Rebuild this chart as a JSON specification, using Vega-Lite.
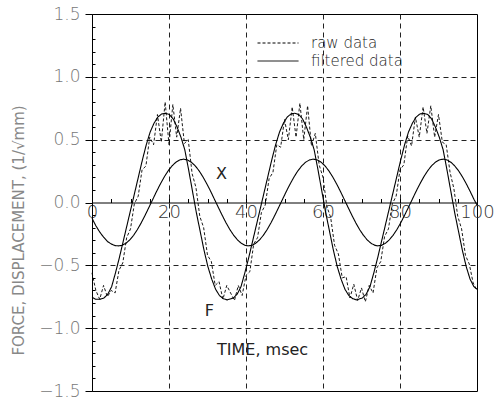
{
  "$schema": "https://vega.github.io/schema/vega-lite/v6.json",
  "width": 385,
  "height": 377,
  "autosize": {"type": "none"},
  "padding": {"left": 92, "top": 14, "right": 19, "bottom": 11},
  "background": "white",
  "config": {"view": {"stroke": "black", "strokeWidth": 1}, "font": "DejaVu Sans"},
  "layer": [
    {
      "data": {"values": [
        {"t":0,"v":-0.755,"k":"F"},{"t":1,"v":-0.77,"k":"F"},{"t":2.1,"v":-0.77,"k":"F"},{"t":3.1,"v":-0.76,"k":"F"},{"t":4.1,"v":-0.73,"k":"F"},{"t":5.1,"v":-0.67,"k":"F"},{"t":6.1,"v":-0.56,"k":"F"},{"t":7.1,"v":-0.44,"k":"F"},{"t":8.1,"v":-0.31,"k":"F"},{"t":9.1,"v":-0.18,"k":"F"},{"t":10.1,"v":-0.05,"k":"F"},{"t":11.1,"v":0.08,"k":"F"},{"t":12.1,"v":0.21,"k":"F"},{"t":13.1,"v":0.34,"k":"F"},{"t":14.1,"v":0.46,"k":"F"},{"t":15.1,"v":0.56,"k":"F"},{"t":16.1,"v":0.63,"k":"F"},{"t":17.1,"v":0.68,"k":"F"},{"t":18.1,"v":0.705,"k":"F"},{"t":19.1,"v":0.71,"k":"F"},{"t":20.1,"v":0.7,"k":"F"},{"t":21.1,"v":0.665,"k":"F"},{"t":22.1,"v":0.6,"k":"F"},{"t":23.1,"v":0.52,"k":"F"},{"t":24.1,"v":0.42,"k":"F"},{"t":25.1,"v":0.26,"k":"F"},{"t":26.1,"v":0.09,"k":"F"},{"t":27.1,"v":-0.08,"k":"F"},{"t":28.1,"v":-0.23,"k":"F"},{"t":29.1,"v":-0.38,"k":"F"},{"t":30.1,"v":-0.51,"k":"F"},{"t":31.1,"v":-0.61,"k":"F"},{"t":32.1,"v":-0.69,"k":"F"},{"t":33.1,"v":-0.74,"k":"F"},{"t":34.1,"v":-0.765,"k":"F"},{"t":35.1,"v":-0.775,"k":"F"},
        {"t":36.7,"v":-0.76,"k":"F"},{"t":37.7,"v":-0.73,"k":"F"},{"t":38.7,"v":-0.67,"k":"F"},{"t":39.7,"v":-0.56,"k":"F"},{"t":40.7,"v":-0.44,"k":"F"},{"t":41.7,"v":-0.31,"k":"F"},{"t":42.7,"v":-0.18,"k":"F"},{"t":43.7,"v":-0.05,"k":"F"},{"t":44.7,"v":0.08,"k":"F"},{"t":45.7,"v":0.21,"k":"F"},{"t":46.7,"v":0.34,"k":"F"},{"t":47.7,"v":0.46,"k":"F"},{"t":48.7,"v":0.56,"k":"F"},{"t":49.7,"v":0.63,"k":"F"},{"t":50.7,"v":0.68,"k":"F"},{"t":51.7,"v":0.705,"k":"F"},{"t":52.7,"v":0.71,"k":"F"},{"t":53.7,"v":0.7,"k":"F"},{"t":54.7,"v":0.665,"k":"F"},{"t":55.7,"v":0.6,"k":"F"},{"t":56.7,"v":0.52,"k":"F"},{"t":57.7,"v":0.42,"k":"F"},{"t":58.7,"v":0.26,"k":"F"},{"t":59.7,"v":0.09,"k":"F"},{"t":60.7,"v":-0.08,"k":"F"},{"t":61.7,"v":-0.23,"k":"F"},{"t":62.7,"v":-0.38,"k":"F"},{"t":63.7,"v":-0.51,"k":"F"},{"t":64.7,"v":-0.61,"k":"F"},{"t":65.7,"v":-0.69,"k":"F"},{"t":66.7,"v":-0.74,"k":"F"},{"t":67.7,"v":-0.765,"k":"F"},{"t":68.7,"v":-0.775,"k":"F"},
        {"t":70.2,"v":-0.76,"k":"F"},{"t":71.2,"v":-0.73,"k":"F"},{"t":72.2,"v":-0.67,"k":"F"},{"t":73.2,"v":-0.56,"k":"F"},{"t":74.2,"v":-0.44,"k":"F"},{"t":75.2,"v":-0.31,"k":"F"},{"t":76.2,"v":-0.18,"k":"F"},{"t":77.2,"v":-0.05,"k":"F"},{"t":78.2,"v":0.08,"k":"F"},{"t":79.2,"v":0.21,"k":"F"},{"t":80.2,"v":0.34,"k":"F"},{"t":81.2,"v":0.46,"k":"F"},{"t":82.2,"v":0.56,"k":"F"},{"t":83.2,"v":0.63,"k":"F"},{"t":84.2,"v":0.68,"k":"F"},{"t":85.2,"v":0.705,"k":"F"},{"t":86.2,"v":0.71,"k":"F"},{"t":87.2,"v":0.7,"k":"F"},{"t":88.2,"v":0.665,"k":"F"},{"t":89.2,"v":0.6,"k":"F"},{"t":90.2,"v":0.52,"k":"F"},{"t":91.2,"v":0.42,"k":"F"},{"t":92.2,"v":0.26,"k":"F"},{"t":93.2,"v":0.09,"k":"F"},{"t":94.2,"v":-0.08,"k":"F"},{"t":95.2,"v":-0.23,"k":"F"},{"t":96.2,"v":-0.38,"k":"F"},{"t":97.2,"v":-0.51,"k":"F"},{"t":98.2,"v":-0.61,"k":"F"},{"t":99.2,"v":-0.67,"k":"F"},{"t":100,"v":-0.69,"k":"F"},
        {"t":0,"v":-0.125,"k":"X"},{"t":1,"v":-0.185,"k":"X"},{"t":2,"v":-0.235,"k":"X"},{"t":3,"v":-0.275,"k":"X"},{"t":4,"v":-0.31,"k":"X"},{"t":5,"v":-0.33,"k":"X"},{"t":6,"v":-0.343,"k":"X"},{"t":6.8,"v":-0.345,"k":"X"},{"t":7.8,"v":-0.341,"k":"X"},{"t":8.8,"v":-0.325,"k":"X"},{"t":9.8,"v":-0.298,"k":"X"},{"t":10.8,"v":-0.261,"k":"X"},{"t":11.8,"v":-0.215,"k":"X"},{"t":12.8,"v":-0.161,"k":"X"},{"t":13.8,"v":-0.101,"k":"X"},{"t":14.8,"v":-0.038,"k":"X"},{"t":15.8,"v":0.026,"k":"X"},{"t":16.8,"v":0.09,"k":"X"},{"t":17.8,"v":0.15,"k":"X"},{"t":18.8,"v":0.205,"k":"X"},{"t":19.8,"v":0.253,"k":"X"},{"t":20.8,"v":0.292,"k":"X"},{"t":21.8,"v":0.321,"k":"X"},{"t":22.8,"v":0.339,"k":"X"},{"t":23.8,"v":0.345,"k":"X"},{"t":24.8,"v":0.339,"k":"X"},{"t":25.8,"v":0.321,"k":"X"},{"t":26.8,"v":0.292,"k":"X"},{"t":27.8,"v":0.253,"k":"X"},{"t":28.8,"v":0.205,"k":"X"},{"t":29.8,"v":0.15,"k":"X"},{"t":30.8,"v":0.09,"k":"X"},{"t":31.8,"v":0.026,"k":"X"},{"t":32.8,"v":-0.038,"k":"X"},{"t":33.8,"v":-0.101,"k":"X"},{"t":34.8,"v":-0.161,"k":"X"},{"t":35.8,"v":-0.215,"k":"X"},{"t":36.8,"v":-0.261,"k":"X"},{"t":37.8,"v":-0.298,"k":"X"},{"t":38.8,"v":-0.325,"k":"X"},{"t":39.8,"v":-0.341,"k":"X"},
        {"t":40.5,"v":-0.345,"k":"X"},{"t":41.5,"v":-0.341,"k":"X"},{"t":42.5,"v":-0.325,"k":"X"},{"t":43.5,"v":-0.298,"k":"X"},{"t":44.5,"v":-0.261,"k":"X"},{"t":45.5,"v":-0.215,"k":"X"},{"t":46.5,"v":-0.161,"k":"X"},{"t":47.5,"v":-0.101,"k":"X"},{"t":48.5,"v":-0.038,"k":"X"},{"t":49.5,"v":0.026,"k":"X"},{"t":50.5,"v":0.09,"k":"X"},{"t":51.5,"v":0.15,"k":"X"},{"t":52.5,"v":0.205,"k":"X"},{"t":53.5,"v":0.253,"k":"X"},{"t":54.5,"v":0.292,"k":"X"},{"t":55.5,"v":0.321,"k":"X"},{"t":56.5,"v":0.339,"k":"X"},{"t":57.5,"v":0.345,"k":"X"},{"t":58.5,"v":0.339,"k":"X"},{"t":59.5,"v":0.321,"k":"X"},{"t":60.5,"v":0.292,"k":"X"},{"t":61.5,"v":0.253,"k":"X"},{"t":62.5,"v":0.205,"k":"X"},{"t":63.5,"v":0.15,"k":"X"},{"t":64.5,"v":0.09,"k":"X"},{"t":65.5,"v":0.026,"k":"X"},{"t":66.5,"v":-0.038,"k":"X"},{"t":67.5,"v":-0.101,"k":"X"},{"t":68.5,"v":-0.161,"k":"X"},{"t":69.5,"v":-0.215,"k":"X"},{"t":70.5,"v":-0.261,"k":"X"},{"t":71.5,"v":-0.298,"k":"X"},{"t":72.5,"v":-0.325,"k":"X"},{"t":73.5,"v":-0.341,"k":"X"},
        {"t":74.2,"v":-0.345,"k":"X"},{"t":75.2,"v":-0.341,"k":"X"},{"t":76.2,"v":-0.325,"k":"X"},{"t":77.2,"v":-0.298,"k":"X"},{"t":78.2,"v":-0.261,"k":"X"},{"t":79.2,"v":-0.215,"k":"X"},{"t":80.2,"v":-0.161,"k":"X"},{"t":81.2,"v":-0.101,"k":"X"},{"t":82.2,"v":-0.038,"k":"X"},{"t":83.2,"v":0.026,"k":"X"},{"t":84.2,"v":0.09,"k":"X"},{"t":85.2,"v":0.15,"k":"X"},{"t":86.2,"v":0.205,"k":"X"},{"t":87.2,"v":0.253,"k":"X"},{"t":88.2,"v":0.292,"k":"X"},{"t":89.2,"v":0.321,"k":"X"},{"t":90.2,"v":0.339,"k":"X"},{"t":91.2,"v":0.345,"k":"X"},{"t":92.2,"v":0.339,"k":"X"},{"t":93.2,"v":0.321,"k":"X"},{"t":94.2,"v":0.292,"k":"X"},{"t":95.2,"v":0.253,"k":"X"},{"t":96.2,"v":0.205,"k":"X"},{"t":97.2,"v":0.15,"k":"X"},{"t":98.2,"v":0.09,"k":"X"},{"t":99.2,"v":0.026,"k":"X"},{"t":100,"v":-0.02,"k":"X"}
      ]},
      "mark": {"type": "line", "color": "black", "strokeWidth": 1.1},
      "encoding": {
        "x": {"field": "t", "type": "quantitative",
          "scale": {"domain": [0, 100], "nice": false, "zero": false},
          "axis": {"orient": "bottom", "offset": -188.5, "title": null, "tickCount": 40,
            "values": [0,5,10,15,20,25,30,35,40,45,50,55,60,65,70,75,80,85,90,95,100],
            "labelExpr": "datum.value % 20 == 0 ? datum.label : ''",
            "tickSize": -4, "labelPadding": 5, "labelFlush": false, "labelOverlap": false,
            "labelFontSize": 18, "labelColor": "#333", "labelFont": "DejaVu Sans", "labelFontWeight": 300,
            "domainColor": "black", "tickColor": "black",
            "grid": true, "gridColor": "#222", "gridDash": [5, 4],
            "gridOpacity": {"condition": {"test": "datum.value % 20 == 0 && datum.value > 0 && datum.value < 100", "value": 1}, "value": 0}}},
        "y": {"field": "v", "type": "quantitative",
          "scale": {"domain": [-1.5, 1.5], "nice": false, "zero": false},
          "axis": {"title": "FORCE, DISPLACEMENT, (1/√mm)", "tickCount": 60,
            "values": [-1.5,-1.4,-1.3,-1.2,-1.1,-1.0,-0.9,-0.8,-0.7,-0.6,-0.5,-0.4,-0.3,-0.2,-0.1,0,0.1,0.2,0.3,0.4,0.5,0.6,0.7,0.8,0.9,1.0,1.1,1.2,1.3,1.4,1.5],
            "labelExpr": "abs(datum.value*2 - round(datum.value*2)) < 0.001 ? format(datum.value, '.1f') : ''",
            "labelFontSize": {"condition": {"test": "abs(datum.value*2 - round(datum.value*2)) < 0.001", "value": 17}, "value": 1},
            "tickSize": {"condition": {"test": "abs(datum.value*2 - round(datum.value*2)) < 0.001", "value": 7}, "value": -3},
            "labelPadding": 5, "labelOverlap": false, "labelColor": "#777", "labelFont": "DejaVu Sans", "labelFontWeight": 300,
            "domainColor": "black", "tickColor": "black",
            "titleFontSize": 15, "titleFontWeight": "normal", "titleColor": "#888", "titleFont": "DejaVu Sans",
            "titleX": -74, "titleY": 216, "titleAngle": -90, "titleAlign": "center", "titleBaseline": "middle",
            "grid": true, "gridColor": "#222", "gridDash": [5, 4],
            "gridOpacity": {"condition": {"test": "abs(abs(datum.value) - 0.5) < 0.001 || abs(abs(datum.value) - 1) < 0.001", "value": 1}, "value": 0}}},
        "detail": {"field": "k"},
        "strokeDash": {"datum": "filtered data", "type": "nominal",
          "scale": {"domain": ["raw data", "filtered data"], "range": [[3, 2], [1, 0]]},
          "legend": {"orient": "none", "legendX": 165, "legendY": 20, "title": null,
            "symbolType": "stroke", "symbolSize": 1681, "symbolStrokeColor": "black", "symbolStrokeWidth": 1,
            "labelFontSize": 15, "labelColor": "#222", "labelFont": "DejaVu Sans", "labelFontWeight": 300, "labelOffset": 12,
            "clipHeight": 18, "rowPadding": 0, "padding": 0}}
      }
    },
    {
      "data": {"values": [
        {"t":0,"v":-0.56},{"t":1,"v":-0.7},{"t":2,"v":-0.77},{"t":3,"v":-0.66},{"t":4,"v":-0.75},{"t":5,"v":-0.7},{"t":6,"v":-0.72},{"t":7,"v":-0.54},{"t":8,"v":-0.48},{"t":9,"v":-0.28},{"t":10,"v":-0.21},{"t":11,"v":-0.01},{"t":12,"v":0.05},{"t":13,"v":0.26},{"t":14,"v":0.29},{"t":15,"v":0.52},{"t":16,"v":0.46},{"t":17,"v":0.7},{"t":18,"v":0.48},{"t":19,"v":0.8},{"t":20,"v":0.46},{"t":21,"v":0.78},{"t":22,"v":0.52},{"t":23,"v":0.75},{"t":24,"v":0.47},{"t":25,"v":0.5},{"t":26,"v":0.23},{"t":27,"v":0.12},{"t":28,"v":-0.11},{"t":29,"v":-0.2},{"t":30,"v":-0.42},{"t":31,"v":-0.47},{"t":32,"v":-0.66},{"t":33,"v":-0.63},{"t":34,"v":-0.77},{"t":35,"v":-0.66},
        {"t":36,"v":-0.72},{"t":37,"v":-0.78},{"t":38,"v":-0.66},{"t":39,"v":-0.74},{"t":40,"v":-0.58},{"t":41,"v":-0.55},{"t":42,"v":-0.33},{"t":43,"v":-0.28},{"t":44,"v":-0.08},{"t":45,"v":-0.02},{"t":46,"v":0.19},{"t":47,"v":0.24},{"t":48,"v":0.46},{"t":49,"v":0.44},{"t":50,"v":0.66},{"t":51,"v":0.5},{"t":52,"v":0.76},{"t":53,"v":0.52},{"t":54,"v":0.79},{"t":55,"v":0.5},{"t":56,"v":0.77},{"t":57,"v":0.45},{"t":58,"v":0.55},{"t":59,"v":0.3},{"t":60,"v":0.2},{"t":61,"v":-0.03},{"t":62,"v":-0.12},{"t":63,"v":-0.34},{"t":64,"v":-0.41},{"t":65,"v":-0.6},{"t":66,"v":-0.59},{"t":67,"v":-0.76},{"t":68,"v":-0.65},{"t":69,"v":-0.78},
        {"t":70,"v":-0.68},{"t":71,"v":-0.79},{"t":72,"v":-0.66},{"t":73,"v":-0.72},{"t":74,"v":-0.52},{"t":75,"v":-0.47},{"t":76,"v":-0.27},{"t":77,"v":-0.21},{"t":78,"v":-0.01},{"t":79,"v":0.05},{"t":80,"v":0.26},{"t":81,"v":0.3},{"t":82,"v":0.53},{"t":83,"v":0.45},{"t":84,"v":0.68},{"t":85,"v":0.52},{"t":86,"v":0.76},{"t":87,"v":0.55},{"t":88,"v":0.77},{"t":89,"v":0.52},{"t":90,"v":0.7},{"t":91,"v":0.48},{"t":92,"v":0.46},{"t":93,"v":0.24},{"t":94,"v":0.11},{"t":95,"v":-0.11},{"t":96,"v":-0.21},{"t":97,"v":-0.42},{"t":98,"v":-0.49},{"t":99,"v":-0.64},{"t":100,"v":-0.7}
      ]},
      "mark": {"type": "line", "color": "black", "strokeWidth": 0.9},
      "encoding": {
        "x": {"field": "t", "type": "quantitative"},
        "y": {"field": "v", "type": "quantitative"},
        "strokeDash": {"datum": "raw data", "type": "nominal"}
      }
    },
    {
      "data": {"values": [
        {"t": 33.6, "v": 0.23, "label": "X"},
        {"t": 30.5, "v": -0.86, "label": "F"},
        {"t": 44.3, "v": -1.17, "label": "TIME, msec"}
      ]},
      "mark": {"type": "text", "color": "#222", "font": "DejaVu Sans", "fontSize": 16},
      "encoding": {
        "x": {"field": "t", "type": "quantitative"},
        "y": {"field": "v", "type": "quantitative"},
        "text": {"field": "label"}
      }
    }
  ]
}
